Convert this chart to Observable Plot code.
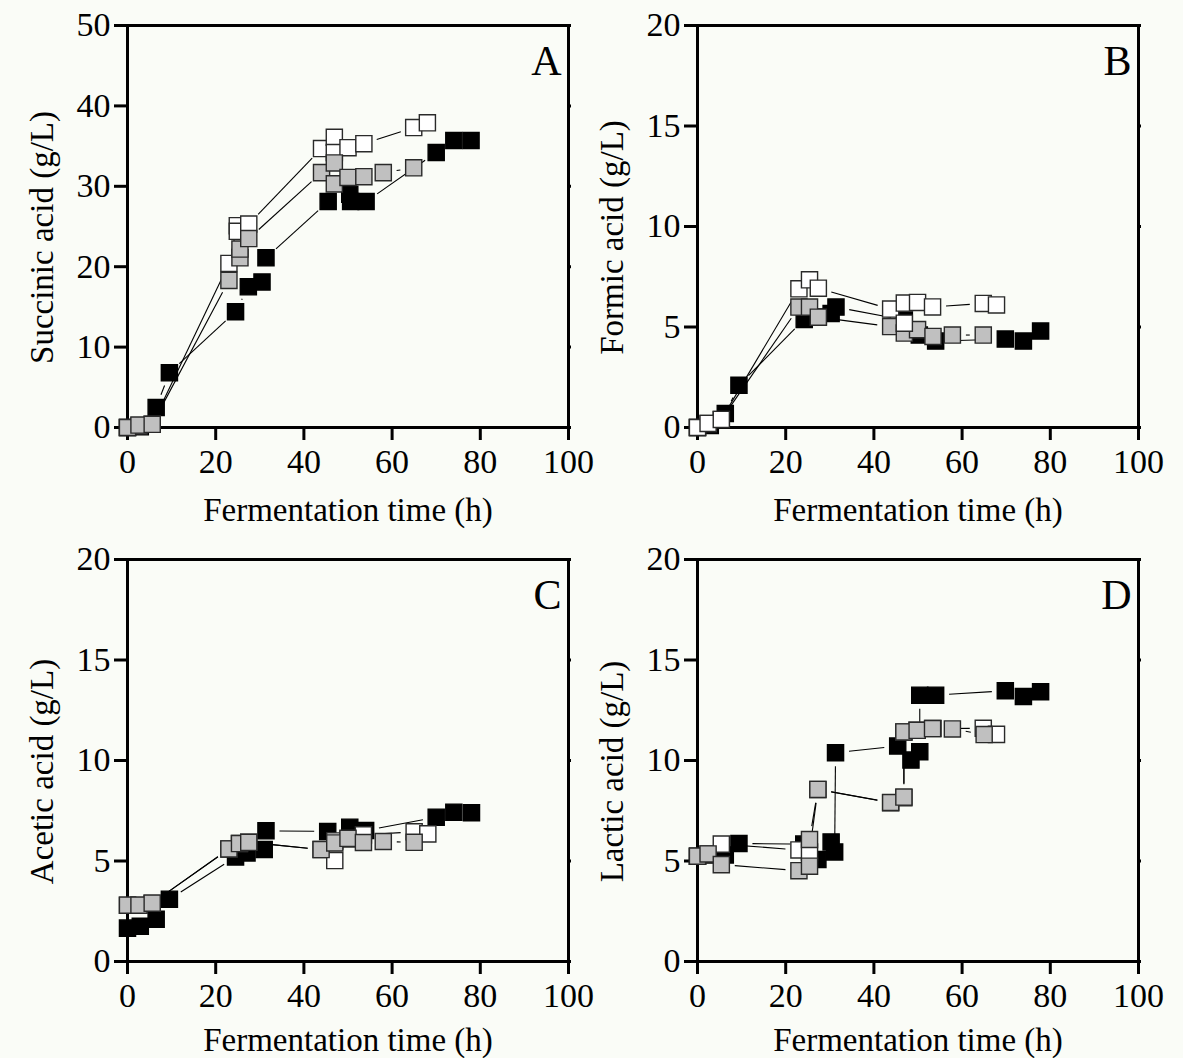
<!DOCTYPE html>
<html>
<head>
<meta charset="utf-8">
<script src="https://cdn.jsdelivr.net/npm/d3@7"></script>
<script src="https://cdn.jsdelivr.net/npm/@observablehq/plot@0.6"></script>
<style>
  html, body { margin: 0; padding: 0; background: #fafcf7; }
  #fig { position: relative; width: 1183px; height: 1058px; overflow: hidden; }
  .panel { position: absolute; width: 591px; }
</style>
</head>
<body>
<div id="fig"></div>
<script>
// Fermentation time axis, shared by all four panels
const timeTicks = [0, 20, 40, 60, 80, 100];
const succinicTicks = [0, 10, 20, 30, 40, 50];
const acidTicks = [0, 5, 10, 15, 20];

// A: succinic acid (g/L)
const succinicOpenTime   = [0, 2.6, 5.6, 23, 24.9, 24.9, 27.5, 44, 46.9, 46.9, 50, 53.6, 64.9, 68];
const succinicOpen       = [0, 0.2, 0.4, 20.4, 25.1, 24.4, 25.3, 34.7, 36.1, 34.2, 34.8, 35.3, 37.3, 37.9];
const succinicShadedTime = [0, 2.6, 5.6, 23, 25.5, 25.5, 27.5, 44, 46.9, 46.9, 50, 53.6, 58, 64.9];
const succinicShaded     = [0, 0.3, 0.4, 18.3, 21.1, 22.2, 23.5, 31.7, 32.9, 30.3, 31.1, 31.2, 31.7, 32.3];
const succinicFilledTime = [0, 2.9, 6.5, 9.5, 24.5, 27.4, 30.5, 31.4, 45.5, 50.4, 50.6, 54.1, 70, 74, 77.9];
const succinicFilled     = [0, 0.1, 2.5, 6.8, 14.4, 17.5, 18.1, 21.1, 28.1, 29.0, 28.1, 28.1, 34.2, 35.7, 35.7];

// B: formic acid (g/L)
const formicOpenTime   = [0, 2.4, 5.4, 23, 25.4, 27.4, 43.8, 46.9, 46.9, 49.9, 53.3, 64.8, 67.8];
const formicOpen       = [0, 0.2, 0.4, 6.9, 7.35, 6.93, 5.89, 6.19, 5.19, 6.22, 6.0, 6.17, 6.1];
const formicShadedTime = [0, 2.4, 5.4, 23, 25.4, 27.4, 43.8, 46.9, 49.9, 53.4, 57.8, 64.8];
const formicShaded     = [0, 0.2, 0.4, 5.99, 5.99, 5.49, 5.02, 4.7, 4.87, 4.53, 4.6, 4.6];
const formicFilledTime = [0, 2.9, 6.3, 9.4, 24.2, 27.4, 30.3, 31.4, 46.9, 50.3, 54, 69.8, 73.9, 77.8];
const formicFilled     = [0, 0.1, 0.7, 2.1, 5.38, 5.5, 5.67, 5.99, 5.35, 4.6, 4.3, 4.4, 4.3, 4.8];

// C: acetic acid (g/L)
const aceticOpenTime   = [0, 2.6, 5.6, 23, 25.4, 27.5, 43.9, 47, 47, 50, 53.5, 65, 68.1];
const aceticOpen       = [2.8, 2.8, 2.9, 5.6, 5.87, 5.93, 5.57, 5.02, 6.0, 6.1, 6.3, 6.45, 6.35];
const aceticShadedTime = [0, 2.6, 5.6, 23, 25.4, 27.5, 43.9, 47, 50, 53.5, 58, 65];
const aceticShaded     = [2.8, 2.8, 2.9, 5.6, 5.87, 5.93, 5.57, 5.9, 6.13, 5.92, 5.97, 5.93];
const aceticFilledTime = [0, 2.9, 6.5, 9.5, 24.5, 27.1, 31, 31.4, 45.4, 50.4, 54, 70, 74, 78];
const aceticFilled     = [1.66, 1.75, 2.1, 3.1, 5.2, 5.4, 5.57, 6.5, 6.47, 6.68, 6.52, 7.18, 7.43, 7.4];

// D: lactic acid (g/L)
const lacticOpenTime   = [0, 2.4, 5.4, 23, 25.4, 27.3, 43.8, 46.8, 46.8, 49.8, 53.4, 64.8, 67.8];
const lacticOpen       = [5.24, 5.35, 5.84, 5.55, 5.45, 8.56, 7.9, 8.15, 11.42, 11.5, 11.59, 11.6, 11.3];
const lacticShadedTime = [0, 2.4, 5.4, 23, 25.4, 25.4, 27.3, 43.8, 46.8, 46.8, 49.8, 53.3, 57.8, 65];
const lacticShaded     = [5.24, 5.35, 4.82, 4.52, 4.74, 6.07, 8.56, 7.91, 8.18, 11.42, 11.5, 11.59, 11.57, 11.29];
const lacticFilledTime = [0, 2.9, 6.3, 9.4, 24.1, 27.3, 30.3, 31.1, 31.3, 45.4, 48.4, 50.4, 50.4, 54, 69.8, 73.9, 77.8];
const lacticFilled     = [5.24, 5.3, 5.3, 5.87, 5.84, 5.07, 5.95, 5.45, 10.39, 10.72, 10.02, 10.44, 13.25, 13.25, 13.47, 13.18, 13.42];

const font = '"Liberation Serif", "Times New Roman", serif';
const markerStyles = {
  filled: {fill: "black", stroke: "black"},
  open: {fill: "white", stroke: "#2a2a2a"},
  shaded: {fill: "#c0c0c0", stroke: "#2a2a2a"}
};

function points(t, v) {
  return t.map((x, i) => ({x, y: v[i]}));
}
function segments(t, v) {
  const s = [];
  for (let i = 1; i < t.length; i++) s.push({x1: t[i - 1], y1: v[i - 1], x2: t[i], y2: v[i]});
  return s;
}

function panel({left, top, yMax, yTicks, yLabel, letter, series, order, xLabelOffset}) {
  const marks = [
    Plot.frame({stroke: "black", strokeWidth: 3}),
    Plot.axisX({ticks: timeTicks, tickSize: 13, tickPadding: 8, strokeWidth: 3, label: null, fontSize: 34}),
    Plot.axisX({anchor: "top", ticks: timeTicks, tickSize: 2, strokeWidth: 3, label: null, tickFormat: () => ""}),
    Plot.axisY({ticks: yTicks, tickSize: 13, tickPadding: 4, strokeWidth: 3, label: null, fontSize: 34}),
    Plot.axisY({anchor: "right", ticks: yTicks, tickSize: 2, strokeWidth: 3, label: null, tickFormat: () => ""}),
    Plot.text([yLabel], {
      frameAnchor: "left", rotate: -90, dx: -85, dy: 11,
      textAnchor: "middle", lineAnchor: "middle", fontSize: 33, fill: "black"
    }),
    Plot.text(["Fermentation time (h)"], {
      frameAnchor: "bottom", dy: xLabelOffset,
      textAnchor: "middle", lineAnchor: "middle", fontSize: 33, fill: "black"
    }),
    Plot.text([letter], {
      frameAnchor: "top-right", dx: -7, dy: 20,
      lineAnchor: "top", textAnchor: "end", fontSize: 42, fill: "black"
    })
  ];
  // connecting lines stop short of each marker
  for (const k of order) {
    const [t, v] = series[k];
    marks.push(Plot.arrow(segments(t, v), {
      x1: "x1", y1: "y1", x2: "x2", y2: "y2",
      inset: 13.5, headLength: 0, bend: 0,
      stroke: "black", strokeWidth: 1.1, strokeLinecap: "butt"
    }));
  }
  for (const k of order) {
    const [t, v] = series[k];
    marks.push(Plot.dot(points(t, v), {
      x: "x", y: "y", symbol: "square", r: 9.1, strokeWidth: 1.4, ...markerStyles[k]
    }));
  }
  const svg = Plot.plot({
    width: 591, height: 529,
    marginLeft: 127, marginRight: 23, marginTop: 25, marginBottom: 102,
    x: {domain: [0, 100]},
    y: {domain: [0, yMax]},
    style: {background: "transparent", fontFamily: font, color: "black", overflow: "visible"},
    marks
  });
  const div = document.createElement("div");
  div.className = "panel";
  div.style.left = left + "px";
  div.style.top = top + "px";
  div.appendChild(svg);
  document.getElementById("fig").appendChild(div);
}

panel({
  left: 0, top: 0, yMax: 50, yTicks: succinicTicks, yLabel: "Succinic acid (g/L)", letter: "A",
  xLabelOffset: 83, order: ["filled", "open", "shaded"],
  series: {
    open: [succinicOpenTime, succinicOpen],
    shaded: [succinicShadedTime, succinicShaded],
    filled: [succinicFilledTime, succinicFilled]
  }
});
panel({
  left: 570, top: 0, yMax: 20, yTicks: acidTicks, yLabel: "Formic acid (g/L)", letter: "B",
  xLabelOffset: 83, order: ["filled", "shaded", "open"],
  series: {
    open: [formicOpenTime, formicOpen],
    shaded: [formicShadedTime, formicShaded],
    filled: [formicFilledTime, formicFilled]
  }
});
panel({
  left: 0, top: 534, yMax: 20, yTicks: acidTicks, yLabel: "Acetic acid (g/L)", letter: "C",
  xLabelOffset: 79, order: ["filled", "open", "shaded"],
  series: {
    open: [aceticOpenTime, aceticOpen],
    shaded: [aceticShadedTime, aceticShaded],
    filled: [aceticFilledTime, aceticFilled]
  }
});
panel({
  left: 570, top: 534, yMax: 20, yTicks: acidTicks, yLabel: "Lactic acid (g/L)", letter: "D",
  xLabelOffset: 79, order: ["filled", "open", "shaded"],
  series: {
    open: [lacticOpenTime, lacticOpen],
    shaded: [lacticShadedTime, lacticShaded],
    filled: [lacticFilledTime, lacticFilled]
  }
});
</script>
</body>
</html>
